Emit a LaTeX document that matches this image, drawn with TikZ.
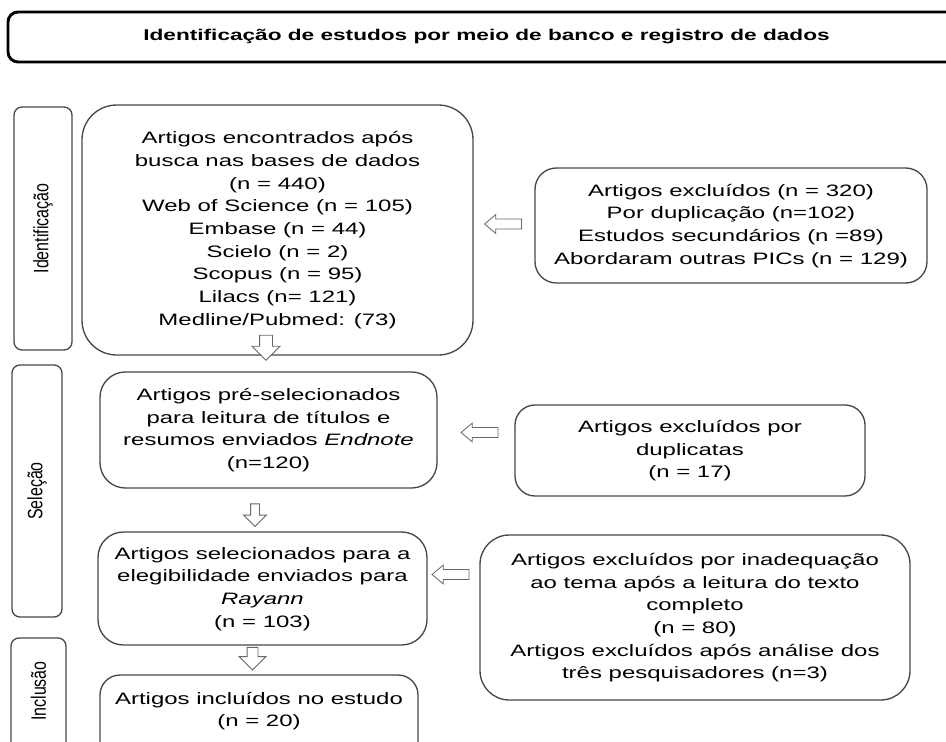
\documentclass[tikz,border=0pt]{standalone}
\usepackage{fontspec}
\setmainfont{Liberation Sans}
\usetikzlibrary{shapes.arrows}

\colorlet{boxline}{black!72}
\colorlet{arrline}{black!60}

% text of the boxes is wide and flat in the figure
\newcommand{\flowtext}[1]{\scalebox{1.45}[1]{\fontsize{12.4}{17}\selectfont\begin{tabular}{@{}c@{}}#1\end{tabular}}}
\newcommand{\stagetext}[1]{\scalebox{1.3}[1]{\rotatebox{90}{\fontsize{12}{14}\selectfont #1}}}

\tikzset{
  flowbox/.style={draw=boxline, line width=1pt, inner sep=0pt},
  stagebox/.style={draw=boxline, line width=1pt, rounded corners=6pt, inner sep=0pt},
  hollowdown/.style={single arrow, draw=arrline, fill=white, line width=0.6pt, inner sep=3pt,
    shape border rotate=270, minimum width=16.5pt, minimum height=17pt, single arrow head extend=5.25pt},
  hollowleft/.style={single arrow, draw=arrline, fill=white, line width=0.6pt, inner sep=3.4pt,
    shape border rotate=180, minimum width=13.5pt, minimum height=27.75pt,
    single arrow head extend=3.4pt, single arrow tip angle=80},
}

\begin{document}
\begin{tikzpicture}[x=0.75pt, y=-0.75pt]
    \clip (0,0) rectangle (946,742);

    % title
    \node[draw=black, line width=2.2pt, rounded corners=7.5pt, minimum width=717.75pt, minimum height=37.5pt]
      (title) at (486.5,37) {\scalebox{1.45}[1]{\fontsize{11.7}{14}\selectfont\bfseries Identificação de estudos por meio de banco e registro de dados}};

    % stages
    \node[stagebox, minimum width=43.5pt, minimum height=182.25pt] (ident) at (43,228.5) {\stagetext{Identificação}};
    \node[stagebox, minimum width=37.5pt, minimum height=189pt] (selec) at (37,491) {\stagetext{Seleção}};
    \node[stagebox, minimum width=41.25pt, minimum height=91.5pt] (inclbox) at (38.5,699) {};
    \node (incltext) at (38.5,691) {\stagetext{Inclusão}};

    % main column
    \node[flowbox, rounded corners=26pt, minimum width=293.25pt, minimum height=187.5pt] (search) at (277.5,230)
      {\flowtext{Artigos encontrados após\\busca nas bases de dados\\(n = 440)\\Web of Science (n = 105)\\Embase (n = 44)\\Scielo (n = 2)\\Scopus (n = 95)\\Lilacs (n= 121)\\Medline/Pubmed: (73)}};
    \node[flowbox, rounded corners=19pt, minimum width=252.75pt, minimum height=87pt] (presel) at (268.5,430)
      {\flowtext{Artigos pré-selecionados\\para leitura de títulos e\\resumos enviados \textit{Endnote}\\(n=120)}};
    \node[flowbox, rounded corners=19pt, minimum width=246.75pt, minimum height=84.75pt] (elig) at (262.5,588.5)
      {\flowtext{Artigos selecionados para a\\elegibilidade enviados para\\\textit{Rayann}\\(n = 103)}};
    \node[flowbox, rounded corners=15pt, minimum width=238.5pt, minimum height=78.75pt] (incl) at (259,727.5) {};
    \node (incltxt) at (259,711) {\flowtext{Artigos incluídos no estudo\\(n = 20)}};

    % excluded column
    \node[flowbox, rounded corners=16pt, minimum width=294pt, minimum height=86.25pt] (excla) at (731,225.5)
      {\flowtext{Artigos excluídos (n = 320)\\Por duplicação (n=102)\\Estudos secundários (n =89)\\Abordaram outras PICs (n = 129)}};
    \node[flowbox, rounded corners=15pt, minimum width=262.5pt, minimum height=68.25pt] (exclb) at (690,450.5)
      {\flowtext{Artigos excluídos por\\duplicatas\\(n = 17)}};
    \node[flowbox, rounded corners=22pt, minimum width=322.5pt, minimum height=123.75pt] (exclc) at (695,617.5)
      {\flowtext{Artigos excluídos por inadequação\\ao tema após a leitura do texto\\completo\\(n = 80)\\Artigos excluídos após análise dos\\três pesquisadores (n=3)}};

    % hollow arrows
    \node[hollowdown, inner sep=4.5pt, minimum width=20.25pt, minimum height=18.75pt, single arrow head extend=5.6pt] (d1) at (266,344.5) {};
    \node[hollowdown] (d2) at (255,513) {};
    \node[hollowdown, inner sep=3.75pt, minimum width=19.5pt, single arrow head extend=6pt] (d3) at (252.5,656) {};
    \node[hollowleft] (l1) at (506,224) {};
    \node[hollowleft] (l2) at (482.5,432.5) {};
    \node[hollowleft] (l3) at (453.5,574.5) {};
\end{tikzpicture}
\end{document}
